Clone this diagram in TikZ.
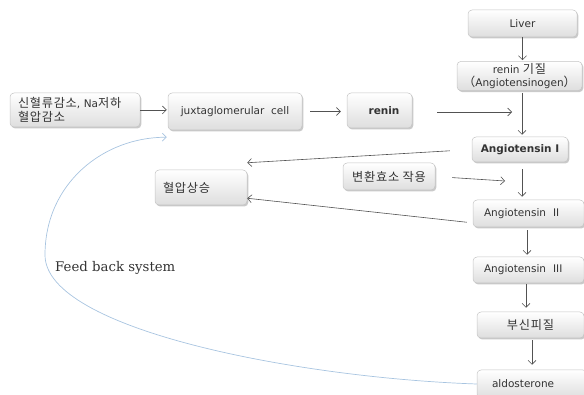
\documentclass[tikz,border=0pt]{standalone}
\usepackage{fontspec}
\setmainfont{DejaVu Sans}
\newfontfamily\kr{Noto Sans CJK KR}[Scale=1.16, LetterSpace=6]
\newfontfamily\slab{DejaVu Serif}
\usetikzlibrary{arrows.meta,shadows,calc}
\definecolor{ink}{HTML}{333333}
\definecolor{edge}{HTML}{C4C4C4}
\definecolor{feed}{HTML}{A8C4E0}
\tikzset{
  box/.style={rectangle, rounded corners=4pt, draw=edge, line width=0.5pt,
    top color=white, bottom color=black!13, text=ink,
    font=\fontsize{10.5}{14}\selectfont, inner sep=2pt,
    drop shadow={shadow xshift=1.3pt, shadow yshift=-1.5pt, fill=black!35, opacity=0.6}},
  flow/.style={draw=ink!85, line width=0.6pt, -{Straight Barb[length=4pt,width=8pt]}},
  back/.style={draw=feed, line width=0.7pt, -{Straight Barb[length=4pt,width=8pt]}}
}
\begin{document}
\begin{tikzpicture}[x=1pt,y=-1pt]
\useasboundingbox (0,0) rectangle (584,395);
\clip (0,0) rectangle (584,395);

% boxes of the pathway
\node[box, minimum width=130pt, minimum height=34pt, text width=114pt, align=left, inner xsep=8pt]
  (src) at (75,110) {{\kr 신혈류감소}, Na{\kr 저하}\\{\kr 혈압감소}};
\node[box, minimum width=134pt, minimum height=37pt] (jux) at (235,111.5) {juxtaglomerular\ \ cell};
\node[box, minimum width=65pt, minimum height=35pt, font=\bfseries\fontsize{10.5}{14}\selectfont] (renin) at (379.5,110.5) {\hspace*{9pt}renin};
\node[box, minimum width=109pt, minimum height=27pt] (liver) at (522.5,23.5) {Liver};
\node[box, minimum width=125pt, minimum height=28pt, align=center, font=\fontsize{10.5}{13}\selectfont] (sub) at (519.5,76) {renin {\kr 기질}\\{\kr （}Angiotensinogen{\kr ）}};
\node[box, minimum width=96pt, minimum height=25pt, font=\bfseries\fontsize{10.5}{14}\selectfont] (ang1) at (520,149.5) {Angiotensin I};
\node[box, minimum width=92pt, minimum height=27pt] (conv) at (389,176.5) {{\kr 변환효소 작용}};
\node[box, minimum width=92pt, minimum height=35pt, text width=76pt, align=left, inner xsep=8pt] (bp) at (201,187.5) {{\kr 혈압상승}};
\node[box, minimum width=111pt, minimum height=27pt, text width=89pt, align=left, inner xsep=11pt] (ang2) at (528.5,213.5) {Angiotensin\ \ II};
\node[box, minimum width=111pt, minimum height=26pt, text width=89pt, align=left, inner xsep=11pt] (ang3) at (528.5,270) {Angiotensin\ \ III};
\node[box, minimum width=107pt, minimum height=26pt] (adr) at (530.5,325) {{\kr 부신피질}};
\node[box, minimum width=110pt, minimum height=28pt, text width=94pt, align=left, inner xsep=8pt] (ald) at (532,384) {\hspace*{7pt}aldosterone};

% free ends of the side arrows
\coordinate (rin) at (512,112);
\coordinate (cin) at (505,181);
\coordinate (bpa) at ($(bp.north east)+(0,-7)$);
\coordinate (bpb) at ($(bp.south east)+(0,-7)$);
\coordinate (a2o) at ($(ang2.south west)+(-6,-5)$);

% main flow
\draw[flow, shorten >=1pt] (src.east) -- (jux.west |- src.east);
\draw[flow, shorten <=8pt, shorten >=6pt] (jux.east) -- (renin.west |- jux.east);
\draw[flow, shorten <=25pt] (renin.east |- rin) -- (rin);
\draw[flow, shorten >=1pt] (liver.south) -- (liver.south |- sub.north);
\draw[flow, shorten <=2pt, shorten >=2pt] ([xshift=2.5pt]sub.south) -- ([xshift=2.5pt]sub.south |- ang1.north);
\draw[flow, shorten <=7pt, shorten >=3pt] ([xshift=2pt]ang1.south) -- ([xshift=2pt]ang1.south |- ang2.north);
\draw[flow, shorten <=3pt, shorten >=2pt] ([xshift=-1.5pt]ang2.south) -- ([xshift=-1.5pt]ang2.south |- ang3.north);
\draw[flow, shorten <=1pt, shorten >=4pt] ([xshift=-2.5pt]ang3.south) -- ([xshift=-2.5pt]ang3.south |- adr.north);
\draw[flow, shorten <=2pt, shorten >=5pt] ([xshift=1.5pt]adr.south) -- ([xshift=1.5pt]adr.south |- ald.north);

% side arrows
\draw[flow, shorten <=17pt] (conv.east) -- (cin);
\draw[flow, shorten <=22pt] (ang1.west) -- (bpa);
\draw[flow] (a2o) -- (bpb);

% feedback loop
\draw[back] (ald.west) .. controls (300,378) and (45,330) .. (45,255)
  .. controls (45,183) and (104,137) .. ($(jux.south west)+(-1,7)$);
\node[anchor=west, text=ink, font=\slab\fontsize{13.3}{15}\selectfont, inner sep=0pt] (fb) at (55,268) {Feed back system};
\end{tikzpicture}
\end{document}
